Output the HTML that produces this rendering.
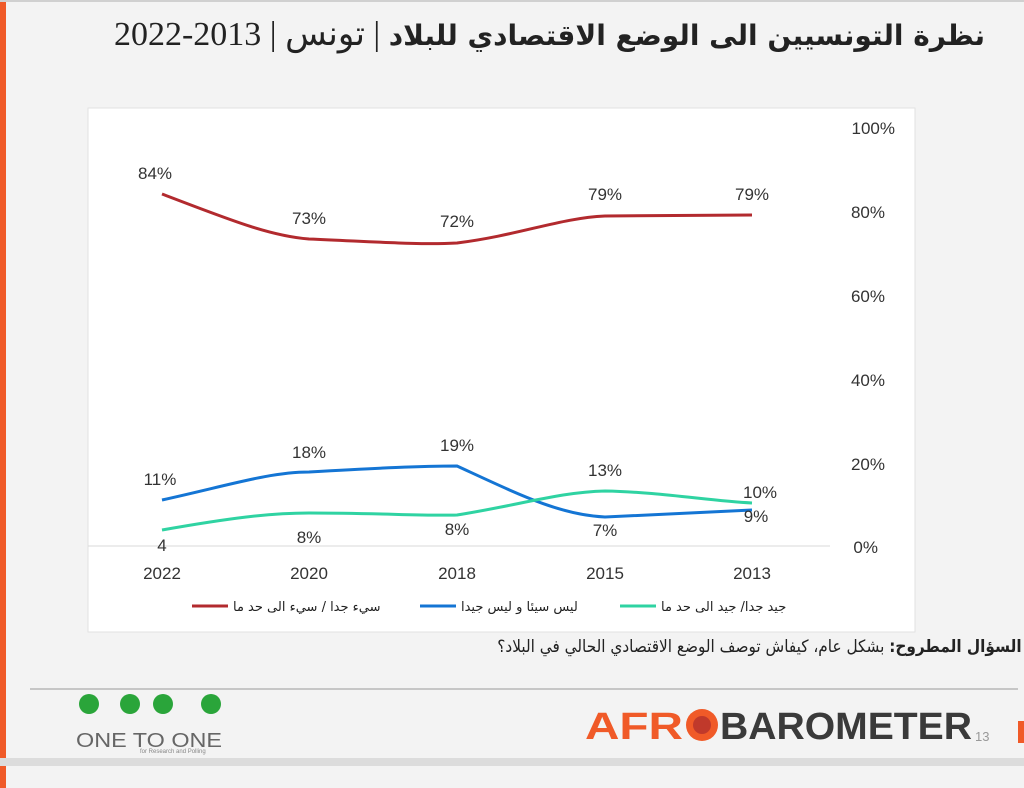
<!DOCTYPE html>
<html><head><meta charset="utf-8"><style>
body{margin:0;width:1024px;height:788px;background:#f3f3f3;position:relative;overflow:hidden;font-family:"Liberation Sans","Noto Sans CJK SC",sans-serif}
.abs{position:absolute}
</style></head><body>
<div class="abs" style="left:0;top:0;width:6px;height:788px;background:#f05a28"></div>
<div class="abs" style="left:0;top:0;width:1024px;height:2px;background:#d0d0d0"></div>
<div class="abs" style="left:100px;top:14px;width:885px;text-align:right;direction:rtl;font-family:'Liberation Serif','DejaVu Sans',serif;font-size:34px;color:#222;white-space:nowrap"><b style="font-family:'DejaVu Sans',sans-serif;font-size:28px">نظرة التونسيين الى الوضع الاقتصادي للبلاد</b> | تونس | <span dir="ltr">2022-2013</span></div>
<svg class="abs" style="left:0;top:0" width="1024" height="788">
<rect x="88" y="108" width="827" height="524" fill="#fff" stroke="#e2e2e2"/>
<line x1="88" y1="546" x2="830" y2="546" stroke="#d9d9d9"/>
<g font-family="Liberation Sans" font-size="17" fill="#333" text-anchor="end">
<text x="895" y="134">100%</text><text x="885" y="218">80%</text><text x="885" y="302">60%</text><text x="885" y="386">40%</text><text x="885" y="470">20%</text><text x="878" y="553">0%</text>
</g>
<g font-family="Liberation Sans" font-size="17" fill="#333" text-anchor="middle">
<text x="162" y="579">2022</text><text x="309" y="579">2020</text><text x="457" y="579">2018</text><text x="605" y="579">2015</text><text x="752" y="579">2013</text>
</g>
<path d="M162,194 C230,220 270,236 309,239 C380,242 420,245 457,243 C520,235 560,218 605,216 L752,215" fill="none" stroke="#b22a2e" stroke-width="3"/>
<path d="M162,500 C230,485 270,472 309,472 C380,468 420,466 457,466 C520,495 560,515 605,517 L752,510" fill="none" stroke="#1475d4" stroke-width="3"/>
<path d="M162,530 C230,518 270,513 309,513 C380,513 420,516 457,515 C520,505 560,492 605,491 C660,492 710,501 752,503" fill="none" stroke="#2fd3a2" stroke-width="3"/>
<g font-family="Liberation Sans" font-size="17" fill="#333" text-anchor="middle">
<text x="155" y="179">84%</text><text x="309" y="224">73%</text><text x="457" y="227">72%</text><text x="605" y="200">79%</text><text x="752" y="200">79%</text>
<text x="160" y="485">11%</text><text x="309" y="458">18%</text><text x="457" y="451">19%</text><text x="605" y="476">13%</text><text x="760" y="498">10%</text>
<text x="162" y="551">4</text><text x="309" y="543">8%</text><text x="457" y="535">8%</text><text x="605" y="536">7%</text><text x="756" y="522">9%</text>
</g>
<line x1="192" y1="606" x2="228" y2="606" stroke="#b22a2e" stroke-width="3"/>
<line x1="420" y1="606" x2="456" y2="606" stroke="#1475d4" stroke-width="3"/>
<line x1="620" y1="606" x2="656" y2="606" stroke="#2fd3a2" stroke-width="3"/>
<g font-family="DejaVu Sans" font-size="13" fill="#222" text-anchor="start">
<text x="233" y="611">سيء جدا / سيء الى حد ما</text>
<text x="461" y="611">ليس سيئا و ليس جيدا</text>
<text x="661" y="611">جيد جدا/ جيد الى حد ما</text>
</g>
<line x1="30" y1="689" x2="1018" y2="689" stroke="#b8b8b8" stroke-width="1.5"/>
<rect x="0" y="758" width="1024" height="8" fill="#dcdcdc"/>
<g fill="#2aa53a"><circle cx="89" cy="704" r="10"/><circle cx="130" cy="704" r="10"/><circle cx="163" cy="704" r="10"/><circle cx="211" cy="704" r="10"/></g>
<text x="76" y="747" font-family="Liberation Sans" font-size="20" fill="#666" textLength="146" lengthAdjust="spacingAndGlyphs">ONE TO ONE</text>
<text x="140" y="753" font-family="Liberation Sans" font-size="6" fill="#888">for Research and Polling</text>
<text x="585" y="739" font-family="Liberation Sans" font-weight="bold" font-size="38" fill="#f05a28" textLength="98" lengthAdjust="spacingAndGlyphs">AFR</text>
<circle cx="702" cy="725" r="16" fill="#f05a28"/><circle cx="702" cy="725" r="9" fill="#c0392b"/>
<text x="720" y="739" font-family="Liberation Sans" font-weight="bold" font-size="38" fill="#3a3a3a" textLength="252" lengthAdjust="spacingAndGlyphs">BAROMETER</text>
<text x="975" y="741" font-family="Liberation Sans" font-size="13" fill="#999">13</text>
<rect x="1018" y="721" width="6" height="22" fill="#f05a28"/>
</svg>
<div class="abs" style="right:2px;top:637px;direction:rtl;font-family:'DejaVu Sans',sans-serif;font-size:17px;color:#222;white-space:nowrap;transform:scaleX(0.9);transform-origin:right"><b>السؤال المطروح:</b> بشكل عام، كيفاش توصف الوضع الاقتصادي الحالي في البلاد؟</div>
</body></html>
